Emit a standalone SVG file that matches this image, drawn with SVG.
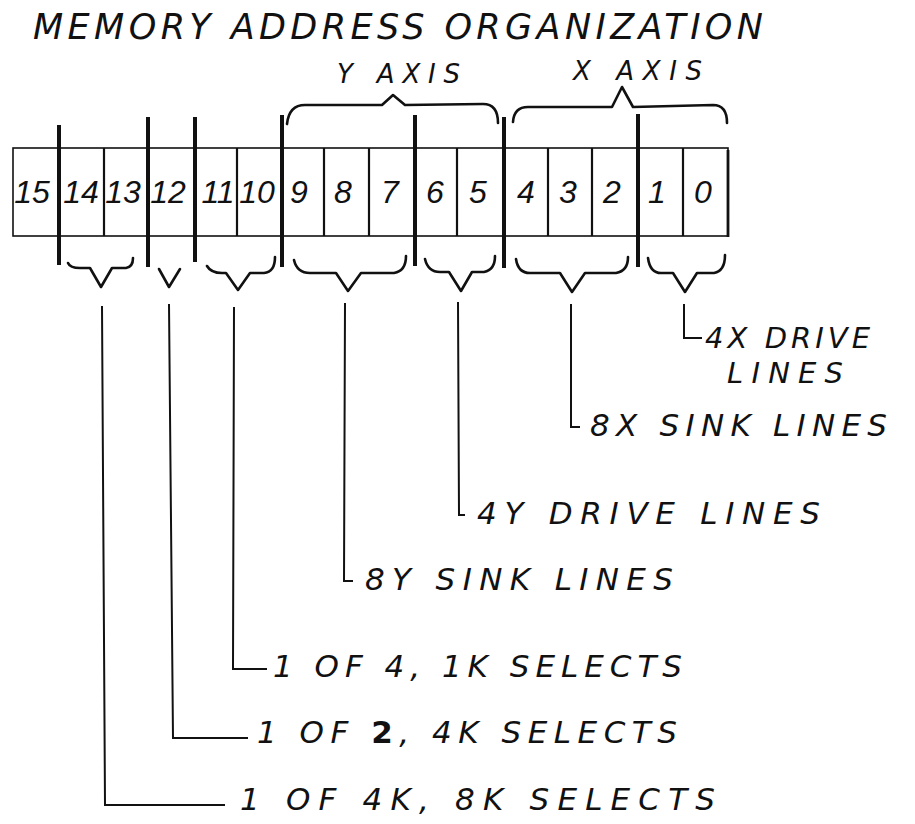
<svg xmlns="http://www.w3.org/2000/svg" width="915" height="824" viewBox="0 0 915 824">
<style>
  .hand { font-family: "DejaVu Sans", "Liberation Sans", sans-serif; font-style: oblique; fill: #111; }
  .title { font-size: 35px; }
  .axis { font-size: 26px; }
  .digit { font-size: 32px; text-anchor: middle; font-family: "Liberation Sans", "DejaVu Sans", sans-serif; font-style: italic; }
  .lbl { font-size: 31px; }
  .lbl2 { font-size: 29px; }
  .edge { fill: none; stroke: #111; stroke-width: 1.6; }
  .thin { stroke: #111; stroke-width: 2.2; }
  .thick { stroke: #111; stroke-width: 4; }
  .brace { fill: none; stroke: #111; stroke-width: 2.6; stroke-linejoin: round; stroke-linecap: round; }
  .lead { fill: none; stroke: #111; stroke-width: 2; }
  .bold { font-style: normal; font-weight: bold; }
</style>
<rect width="915" height="824" fill="#fff"/>

<g id="title">
  <text class="hand title" x="33" y="39" textLength="730" lengthAdjust="spacing">MEMORY ADDRESS ORGANIZATION</text>
</g>

<g id="y-axis">
  <text class="hand axis" x="337" y="83" textLength="123" lengthAdjust="spacing">Y AXIS</text>
  <path class="brace" d="M287,124 Q289,105 305,105 L382,105 L393,95 L405,105 L483,104 Q498,104 498,123"/>
</g>
<g id="x-axis">
  <text class="hand axis" x="573" y="80" textLength="129" lengthAdjust="spacing">X AXIS</text>
  <path class="brace" d="M513,122 Q514,107 528,107 L612,107 L622,87 L633,107 L713,105 Q727,105 727,123"/>
</g>

<g id="register">
  <rect class="edge" x="13" y="148" width="715" height="88"/>
  <line class="thin" x1="104" y1="148" x2="104" y2="236"/>
  <line class="thin" x1="237" y1="148" x2="237" y2="236"/>
  <line class="thin" x1="324" y1="148" x2="324" y2="236"/>
  <line class="thin" x1="369" y1="148" x2="369" y2="236"/>
  <line class="thin" x1="457" y1="148" x2="457" y2="236"/>
  <line class="thin" x1="548" y1="148" x2="548" y2="236"/>
  <line class="thin" x1="592" y1="148" x2="592" y2="236"/>
  <line class="thin" x1="683" y1="148" x2="683" y2="236"/>
  <line class="thin" x1="728" y1="150" x2="728" y2="237" style="stroke-width:2.8"/>
  <line class="thick" x1="59" y1="125" x2="59" y2="265"/>
  <line class="thick" x1="148" y1="117" x2="148" y2="267"/>
  <line class="thick" x1="195" y1="117" x2="195" y2="262"/>
  <line class="thick" x1="282" y1="115" x2="282" y2="267"/>
  <line class="thick" x1="415" y1="115" x2="415" y2="266"/>
  <line class="thick" x1="504" y1="117" x2="504" y2="268"/>
  <line class="thick" x1="638" y1="114" x2="638" y2="267"/>
  <g class="hand digit">
    <text x="32" y="203">15</text>
    <text x="81" y="203">14</text>
    <text x="123" y="203">13</text>
    <text x="168" y="203">12</text>
    <text x="218" y="203">11</text>
    <text x="257" y="203">10</text>
    <text x="299" y="203">9</text>
    <text x="343" y="203">8</text>
    <text x="390" y="203">7</text>
    <text x="435" y="203">6</text>
    <text x="478" y="203">5</text>
    <text x="526" y="203">4</text>
    <text x="568" y="203">3</text>
    <text x="612" y="203">2</text>
    <text x="657" y="203">1</text>
    <text x="703" y="203">0</text>
  </g>
</g>

<g id="braces-below">
  <path class="brace" d="M68,263 Q70,268 80,268 L90,268 L101,287 L112,268 L126,268 Q133,267 133,258"/>
  <path class="brace" d="M159,269 L169,287 L180,269"/>
  <path class="brace" d="M207,266 Q211,273 222,273 L226,273 L238,290 L250,273 L264,273 Q275,272 275,257"/>
  <path class="brace" d="M294,260 Q297,273 310,273 L336,273 L348,291 L361,273 L394,273 Q406,271 406,256"/>
  <path class="brace" d="M425,259 Q428,272 440,272 L449,272 L461,291 L472,272 L484,272 Q495,270 495,256"/>
  <path class="brace" d="M516,259 Q518,273 530,273 L560,273 L572,292 L585,273 L616,273 Q628,271 628,257"/>
  <path class="brace" d="M648,258 Q650,273 661,273 L673,273 L685,292 L697,273 L714,273 Q725,271 725,255"/>
</g>

<g id="connectors">
  <polyline class="lead" points="102,306 105,805 225,805"/>
  <polyline class="lead" points="169,304 173,738 248,738"/>
  <polyline class="lead" points="234,307 233,669 267,669"/>
  <polyline class="lead" points="345,303 344,581 353,581"/>
  <polyline class="lead" points="458,302 459,515 465,515"/>
  <polyline class="lead" points="571,304 571,427 580,427"/>
  <polyline class="lead" points="684,304 684,338 702,338"/>
</g>

<g id="label-4x-drive">
  <text class="hand lbl2" x="705" y="348" textLength="165" lengthAdjust="spacing">4X DRIVE</text>
  <text class="hand lbl2" x="727" y="383" textLength="116" lengthAdjust="spacing">LINES</text>
</g>
<g id="label-8x-sink">
  <text class="hand lbl" x="590" y="436" textLength="297" lengthAdjust="spacing">8X SINK LINES</text>
</g>
<g id="label-4y-drive">
  <text class="hand lbl" x="477" y="524" textLength="343" lengthAdjust="spacing">4Y DRIVE LINES</text>
</g>
<g id="label-8y-sink">
  <text class="hand lbl" x="365" y="590" textLength="308" lengthAdjust="spacing">8Y SINK LINES</text>
</g>
<g id="label-1k">
  <text class="hand lbl" x="273" y="677" textLength="409" lengthAdjust="spacing">1 OF 4, 1K SELECTS</text>
</g>
<g id="label-4k">
  <text class="hand lbl" x="257" y="743" textLength="420" lengthAdjust="spacing">1 OF <tspan class="bold">2</tspan>, 4K SELECTS</text>
</g>
<g id="label-8k">
  <text class="hand lbl" x="240" y="810" textLength="475" lengthAdjust="spacing">1 OF 4K, 8K SELECTS</text>
</g>
</svg>
